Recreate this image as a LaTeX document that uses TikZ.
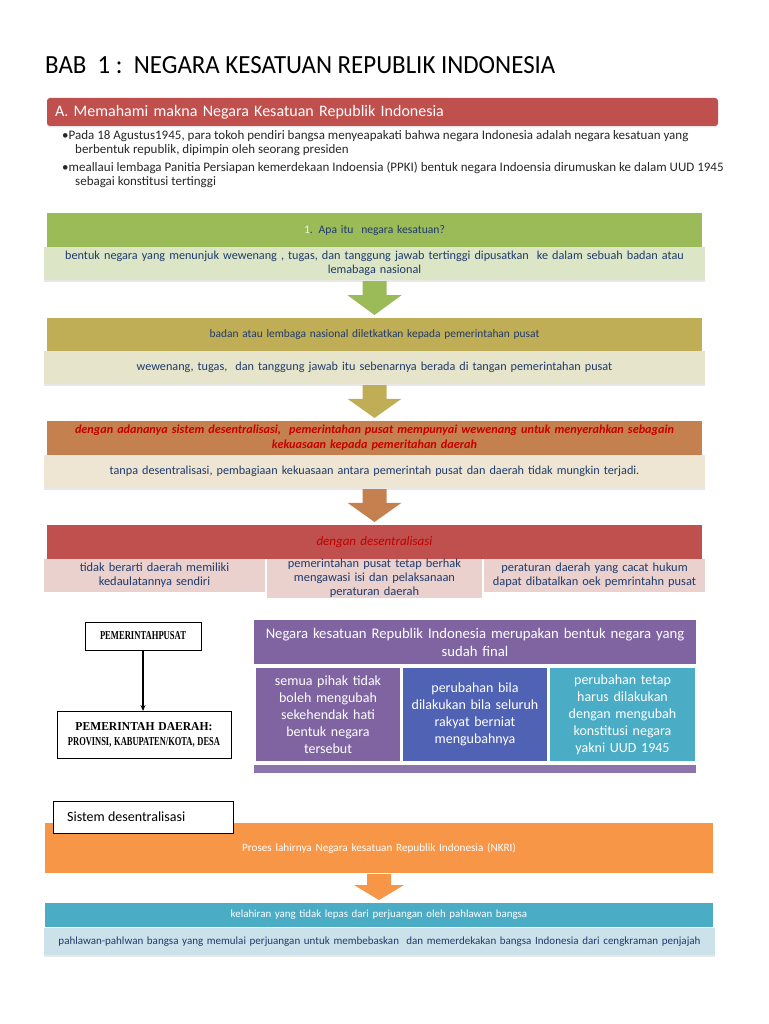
\documentclass[tikz,border=0pt]{standalone}
\usepackage{fontspec}
\setmainfont{Carlito}
\newfontfamily\timesb{Liberation Serif}[BoldFont={* Bold}]
\usetikzlibrary{calc,arrows.meta,shadows}
\definecolor{cred}{HTML}{C0504D}
\definecolor{cgreen}{HTML}{9BBB59}
\definecolor{clgreen}{HTML}{DCE6C6}
\definecolor{colive}{HTML}{BFAE55}
\definecolor{clolive}{HTML}{E6E4CA}
\definecolor{cbrown}{HTML}{C4804E}
\definecolor{ctan}{HTML}{EEE6D2}
\definecolor{cpink}{HTML}{EAD1CE}
\definecolor{cpurple}{HTML}{8064A2}
\definecolor{cblue}{HTML}{4F62B4}
\definecolor{cteal}{HTML}{4BACC6}
\definecolor{corange}{HTML}{F79646}
\definecolor{clblue}{HTML}{CCE2EA}
\definecolor{cnavy}{HTML}{1F3A6B}
\definecolor{cdred}{HTML}{C00000}
\newcommand\blockarrow[4]{%
  \fill[#1] let \p1=(#2.south), \p2=(#3.north), \n1={0.4*(\y1-\y2)} in
  (\x1-12pt,\y1-1pt) -- (\x1+12pt,\y1-1pt) -- (\x1+12pt,\y1-\n1*1pt)
  -- (\x1+#4,\y1-\n1*1pt) -- (\x1,\y2+3pt) -- (\x1-#4,\y1-\n1*1pt)
  -- (\x1-12pt,\y1-\n1*1pt) -- cycle;}
\begin{document}
\begin{tikzpicture}[x=1pt,y=-1pt,
  bx/.style={anchor=north west, inner ysep=0pt, inner xsep=6pt, align=center, outer sep=0pt},
  band/.style 2 args={bx, fill=#1, text width=643pt, minimum height=#2},
  lband/.style 2 args={bx, fill=#1, text width=649pt, minimum height=#2,
     drop shadow={shadow xshift=0pt, shadow yshift=-1.5pt, opacity=.18}},
  navytxt/.style={text=cnavy, font=\fontsize{12.2}{14}\selectfont},
  cell/.style={bx, inner xsep=2pt, minimum height=33pt, fill=cpink, text=cnavy,
     font=\fontsize{12.4}{14}\selectfont},
  ncell/.style={bx, inner xsep=2pt, minimum height=93pt, text=white,
     font=\fontsize{14}{17}\selectfont},
  bullet/.style={anchor=base west, inner sep=0pt, text=black!85, font=\fontsize{13}{14}\selectfont},
  wbox/.style={bx, fill=white, draw=black, line width=0.8pt},
]
\useasboundingbox (0,0) rectangle (768,1024);

% title
\node[anchor=west, inner sep=0pt] (title) at (45,65)
  {\resizebox{510pt}{17pt}{BAB\ \ 1 :\ \ NEGARA KESATUAN REPUBLIK INDONESIA}};

% section header
\node[bx, fill=cred, rounded corners=3pt, text width=655pt, inner xsep=8pt, align=left,
  minimum height=28pt, text=white, font=\fontsize{16}{18}\selectfont,
  drop shadow={shadow xshift=0pt, shadow yshift=-1.5pt, opacity=.2}] (hdr) at (47,98)
  {A. Memahami makna Negara Kesatuan Republik Indonesia};

\node[bullet] (b1) at (62,140) {\textbullet Pada 18 Agustus1945, para tokoh pendiri bangsa menyeapakati bahwa negara Indonesia adalah negara kesatuan yang};
\node[bullet] (b2) at (75,154) {berbentuk republik, dipimpin oleh seorang presiden};
\node[bullet] (b3) at (62,172) {\textbullet meallaui lembaga Panitia Persiapan kemerdekaan Indoensia (PPKI) bentuk negara Indoensia dirumuskan ke dalam UUD 1945};
\node[bullet] (b4) at (75,186) {sebagai konstitusi tertinggi};

% green
\node[band={cgreen}{34pt}, navytxt, font=\fontsize{11.6}{13}\selectfont] (g1) at (47,213)
  {{\color{white!85!cgreen}1}. Apa itu\ \ negara kesatuan?};
\node[lband={clgreen}{33pt}, navytxt] (g2) at (44,247)
  {bentuk negara yang menunjuk wewenang , tugas, dan tanggung jawab tertinggi dipusatkan\ \ ke dalam sebuah badan atau\\ lemabaga nasional};

% olive
\node[band={colive}{33pt}, navytxt, font=\fontsize{11.4}{13}\selectfont] (o1) at (47,318)
  {badan atau lembaga nasional diletkatkan kepada pemerintahan pusat};
\node[lband={clolive}{33pt}, navytxt] (o2) at (44,351)
  {wewenang, tugas,\ \ dan tanggung jawab itu sebenarnya berada di tangan pemerintahan pusat};

% brown
\node[band={cbrown}{34pt}, text=cdred!90!red, font=\fontsize{12.2}{15}\selectfont\bfseries\itshape] (r1) at (47,421)
  {dengan adananya sistem desentralisasi,\ \ pemerintahan pusat mempunyai wewenang untuk menyerahkan sebagain\\ kekuasaan kepada pemeritahan daerah};
\node[lband={ctan}{33pt}, navytxt] (r2) at (44,455)
  {tanpa desentralisasi, pembagiaan kekuasaan antara pemerintah pusat dan daerah tidak mungkin terjadi.};

% red
\node[band={cred}{34pt}, text=cdred, font=\fontsize{13}{14}\selectfont\itshape] (d1) at (47,525)
  {dengan desentralisasi};
\node[cell, text width=217pt] (p1) at (44,559) {tidak berarti daerah memiliki\\ kedaulatannya sendiri};
\node[cell, text width=211pt] (p2) at (267,559) {pemerintahan pusat tetap berhak\\ mengawasi isi dan pelaksanaan\\ peraturan daerah};
\node[cell, text width=217pt] (p3) at (484,559) {peraturan daerah yang cacat hukum\\ dapat dibatalkan oek pemrintahn pusat};

% block arrows
\blockarrow{cgreen}{g2}{o1}{27pt}
\blockarrow{colive}{o2}{r1}{27pt}
\blockarrow{cbrown}{r2}{d1}{27pt}

% left hierarchy
\node[wbox, inner xsep=0pt, text width=116pt, minimum height=28pt] (lp) at (85,622)
  {\timesb\bfseries\resizebox{86pt}{8pt}{PEMERINTAHPUSAT}};
\node[wbox, inner xsep=0pt, text width=174pt, minimum height=47pt] (ld) at (57,711)
  {\timesb\bfseries\resizebox{137pt}{8pt}{PEMERINTAH DAERAH:}\\[3pt]
   \resizebox{152pt}{8pt}{PROVINSI, KABUPATEN/KOTA, DESA}};
\draw[line width=1.2pt, -{Stealth[length=6pt,width=5pt]}] (lp.south) -- (lp.south |- ld.north);

% purple panel
\node[bx, fill=cpurple, text width=430pt, minimum height=44pt, text=white,
  font=\fontsize{14.7}{18}\selectfont] (nh) at (254,620)
  {Negara kesatuan Republik Indonesia merupakan bentuk negara yang\\ sudah final};
\node[ncell, fill=cpurple, text width=140pt] (n1) at (256,668)
  {semua pihak tidak\\ boleh mengubah\\ sekehendak hati\\ bentuk negara\\ tersebut};
\node[ncell, fill=cblue, text width=140pt] (n2) at (403,668)
  {perubahan bila\\ dilakukan bila seluruh\\ rakyat berniat\\ mengubahnya};
\node[ncell, fill=cteal, text width=141pt] (n3) at (550,668)
  {perubahan tetap\\ harus dilakukan\\ dengan mengubah\\ konstitusi negara\\ yakni UUD 1945};
\node[bx, fill=cpurple!90!white, inner xsep=0pt, text width=442pt, minimum height=8pt] (ns) at (254,765) {};

% bottom part
\node[band={corange}{50pt}, text width=656pt, text=white, font=\fontsize{11.2}{13}\selectfont] (or) at (45,823)
  {Proses lahirnya Negara kesatuan Republik Indonesia (NKRI)};
\node[wbox, inner xsep=0pt, text width=180pt, minimum height=32pt] (sd) at (53,801) {};
\node[anchor=west, inner sep=0pt, font=\fontsize{14}{16}\selectfont] (sdt) at ($(sd.west)+(14,0)$) {Sistem desentralisasi};
\node[band={cteal}{24pt}, text width=656pt, text=white, font=\fontsize{10.9}{12}\selectfont] (tl) at (45,903)
  {kelahiran yang tidak lepas dari perjuangan oleh pahlawan bangsa};
\node[lband={clblue}{27pt}, text width=659pt, navytxt, font=\fontsize{11}{12}\selectfont] (lb) at (44,928)
  {pahlawan-pahlwan bangsa yang memulai perjuangan untuk membebaskan\ \ dan memerdekakan bangsa Indonesia dari cengkraman penjajah};
\blockarrow{corange}{or}{tl}{25pt}
\end{tikzpicture}
\end{document}
